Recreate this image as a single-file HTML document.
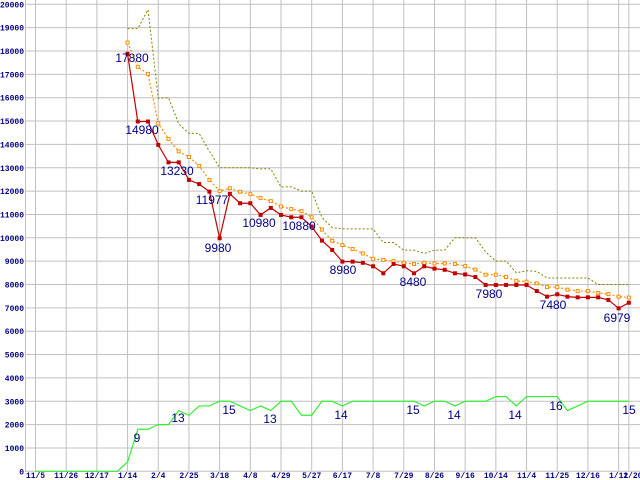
<!DOCTYPE html>
<html><head><meta charset="utf-8"><style>
html,body{margin:0;padding:0;background:#fff;}
svg{display:block;}
</style></head><body>
<svg id="chart" width="640" height="480" xmlns="http://www.w3.org/2000/svg"></svg>
<script>
const xLabels=["11/5","11/26","12/17","1/14","2/4","2/25","3/18","4/8","4/29","5/27","6/17","7/8","7/29","8/26","9/16","10/14","11/4","11/25","12/16","1/12"];
const yTicks=[0,1000,2000,3000,4000,5000,6000,7000,8000,9000,10000,11000,12000,13000,14000,15000,16000,17000,18000,19000,20000];
const startIdx=9;
const minPrice=[17880,14980,14980,13980,13230,13230,12480,12300,11977,9980,11880,11480,11480,10980,11280,10980,10880,10880,10480,9880,9480,8980,8980,8930,8780,8480,8880,8780,8480,8780,8680,8630,8480,8430,8320,7980,7980,7980,7980,7980,7720,7480,7580,7480,7450,7450,7450,7340,6979,7220];
const avgPrice=[18360,17320,17020,14900,14230,13700,13460,13080,12480,12000,12120,11970,11870,11700,11570,11340,11230,11140,10880,10350,9870,9690,9520,9330,9100,9050,9000,8930,8880,8930,8900,8900,8880,8790,8640,8420,8420,8320,8160,8120,8050,7890,7890,7780,7720,7720,7640,7590,7480,7440];
const maxPrice=[18960,18960,19770,15980,16000,14880,14470,14470,13700,13000,13000,13000,13000,12950,12950,12180,12180,12000,12000,10870,10440,10380,10380,10380,10380,9800,9800,9470,9470,9330,9470,9470,10000,10000,10000,9400,9000,9000,8500,8590,8560,8280,8280,8280,8280,8280,8000,8000,8000,8000];
const shopCount=[0,0,0,0,0,0,0,0,0,2,9,9,10,10,13,12,14,14,15,15,14,13,14,13,15,15,12,12,15,15,14,15,15,15,15,15,15,15,14,15,15,14,15,15,15,16,16,14,16,16,16,16,13,14,15,15,15,15,15];
const priceLabels=[[0,"17880",132,62],[1,"14980",142,134],[4,"13230",177,175],[8,"11977",212,204],[9,"9980",218,252],[13,"10980",259,227],[16,"10880",299,230],[21,"8980",343,274],[25,"8480",413,286],[35,"7980",489,298],[41,"7480",553,309],[48,"6979",617,322]];
const countLabels=[[10,"9",137,442],[14,"13",178,422],[18,"15",229,414],[23,"13",270,423],[30,"14",341,419],[37,"15",413,414],[41,"14",454,419],[47,"14",515,419],[49,"16",556,410],[58,"15",629,414]];

const NS="http://www.w3.org/2000/svg";
const svg=document.getElementById('chart');
function X(i){return 35.5+i*10.23;}
function Y(v){return 471.3-v*0.02335;}
function mk(t,a,p){const e=document.createElementNS(NS,t);for(const k in a)e.setAttribute(k,a[k]);(p||svg).appendChild(e);return e;}

const grid=mk('g',{});


yTicks.forEach(v=>{
  const l=mk('line',{x1:25.5,x2:640,y1:Y(v),y2:Y(v),stroke:'#c0c0c0','stroke-width':1},grid);
  
  
  const t=mk('text',{x:24,y:Y(v)+3,'text-anchor':'end','font-size':8,'font-weight':'bold','font-family':'Liberation Mono, monospace',fill:'#000080'});
  t.textContent=v;
  
  
});
xLabels.forEach((s,k)=>{
  const x=X(k*3);
  const l=mk('line',{x1:x,x2:x,y1:0,y2:471,stroke:'#c0c0c0','stroke-width':1},grid);
  
  
  const t=mk('text',{x:x,y:478,'text-anchor':'middle','font-size':8,'font-weight':'bold','font-family':'Liberation Mono, monospace',fill:'#000080'});
  t.textContent=s;
  
  
});
{const x=X(58);
const l=mk('line',{x1:x,x2:x,y1:0,y2:471,stroke:'#c0c0c0','stroke-width':1},grid);


const t=mk('text',{x:x+4,y:478,'text-anchor':'middle','font-size':8,'font-weight':'bold','font-family':'Liberation Mono, monospace',fill:'#000080'});
t.textContent="1/20";

}
const ax=mk('line',{x1:25.5,x2:25.5,y1:0,y2:472,stroke:'#c0c0c0','stroke-width':1});



function pts(arr,off,scale){return arr.map((v,i)=>X(i+off)+','+Y(v*scale)).join(' ');}

const g1=mk('polyline',{points:pts(shopCount,0,200),fill:'none',stroke:'#33ee33','stroke-width':1.2});



const mx=mk('polyline',{points:pts(maxPrice,startIdx,1),fill:'none',stroke:'#808000','stroke-width':1,'stroke-dasharray':'2,2'});



const av=mk('polyline',{points:pts(avgPrice,startIdx,1),fill:'none',stroke:'#ff8c00','stroke-width':1.2,'stroke-dasharray':'2,2'});


avgPrice.forEach((v,i)=>{
  const r=mk('rect',{x:X(i+startIdx)-1.5,y:Y(v)-1.5,width:3,height:3,fill:'#fff',stroke:'#ff8c00','stroke-width':1});
  
  
});

const mn=mk('polyline',{points:pts(minPrice,startIdx,1),fill:'none',stroke:'#c00000','stroke-width':1.2});


minPrice.forEach((v,i)=>{
  const r=mk('rect',{x:X(i+startIdx)-2,y:Y(v)-2,width:4,height:4,fill:'#c00000'});
  
  
});

priceLabels.forEach(p=>{
  const t=mk('text',{x:p[2],y:p[3],'text-anchor':'middle','font-size':12,'font-family':'Liberation Sans, sans-serif',fill:'#000080'});
  t.textContent=p[1];
  
  
});
countLabels.forEach(p=>{
  const t=mk('text',{x:p[2],y:p[3],'text-anchor':'middle','font-size':12,'font-family':'Liberation Sans, sans-serif',fill:'#000080'});
  t.textContent=p[1];
  
  
});
</script>
</body></html>
